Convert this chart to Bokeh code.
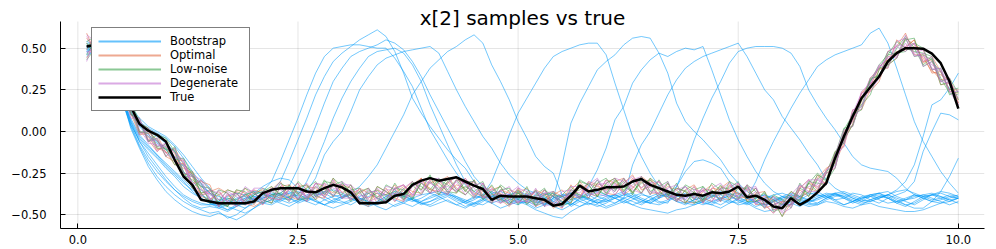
import numpy as np
from bokeh.plotting import figure
from bokeh.models import Range1d, Legend, LegendItem, Label, FixedTicker
from bokeh.embed import file_html
from bokeh.resources import INLINE

# ---------------- data ----------------
t = np.arange(1, 101) / 10.0   # time grid 0.1 .. 10.0

true_x2 = [0.51, 0.52, 0.52, 0.42, 0.26, 0.15, 0.045, 0.005, -0.02, -0.06,
           -0.17, -0.27, -0.32, -0.41, -0.42, -0.43, -0.43, -0.43, -0.43, -0.42,
           -0.37, -0.35, -0.34, -0.34, -0.34, -0.36, -0.365, -0.34, -0.32, -0.335,
           -0.365, -0.43, -0.43, -0.43, -0.425, -0.385, -0.375, -0.32, -0.295, -0.28,
           -0.295, -0.285, -0.275, -0.30, -0.325, -0.345, -0.41, -0.385, -0.39, -0.39,
           -0.39, -0.40, -0.41, -0.445, -0.435, -0.385, -0.325, -0.36, -0.35, -0.335,
           -0.335, -0.33, -0.30, -0.285, -0.32, -0.34, -0.36, -0.38, -0.385, -0.375,
           -0.385, -0.365, -0.37, -0.36, -0.33, -0.395, -0.385, -0.41, -0.45, -0.46,
           -0.40, -0.44, -0.41, -0.365, -0.31, -0.16, -0.03, 0.09, 0.20, 0.265,
           0.33, 0.42, 0.47, 0.50, 0.50, 0.497, 0.467, 0.41, 0.30, 0.137]

# centre of the particle-filter sample band (hundredths)
pf_center = [51, 52, 50, 40, 26, 13, 3, -3, -7, -10,
             -15, -22, -29, -34, -38, -40, -40, -40, -39, -40,
             -39, -38, -36, -37, -36, -37, -36, -35, -34, -35,
             -37, -39, -39, -38, -38, -37, -37, -35, -33, -32,
             -33, -33, -32, -33, -35, -36, -38, -38, -39, -39,
             -39, -40, -40, -41, -41, -38, -35, -35, -34, -34,
             -33, -33, -32, -32, -33, -35, -36, -37, -38, -38,
             -38, -37, -37, -36, -36, -37, -39, -41, -44, -46,
             -41, -37, -34, -31, -27, -17, -4, 8, 18, 27,
             35, 43, 49, 53, 50, 44, 40, 33, 27, 21]

# bootstrap sample paths (hundredths)
boot_01 = [50, 52, 49, 39, 23, 14, 6, 2, -1, -4,
           -9, -16, -24, -31, -37, -42, -41, -43, -40, -38,
           -36, -30, -18, -5, 8, 22, 35, 45, 50, 51,
           52, 52, 51, 50, 50, 44, 36, 27, 14, 1,
           -8, -17, -25, -32, -38, -40, -39, -42, -41, -39,
           -40, -43, -41, -39, -42, -44, -40, -38, -41, -42,
           -39, -37, -40, -43, -41, -38, -39, -42, -44, -41,
           -40, -38, -41, -43, -40, -42, -45, -43, -41, -39,
           -40, -43, -41, -39, -37, -38, -40, -42, -39, -38,
           -40, -38, -35, -30, -20, -3, 16, 19, 26, 35]
boot_02 = [48, 50, 47, 37, 21, 7, -3, -9, -14, -19,
           -24, -29, -34, -38, -41, -44, -47, -45, -43, -40,
           -38, -36, -30, -18, -5, 8, 22, 33, 42, 47,
           51, 55, 58, 61, 57, 48, 35, 20, 11, 3,
           -4, -11, -17, -22, -30, -36, -39, -41, -38, -37,
           -39, -42, -44, -40, -38, -37, -39, -41, -43, -40,
           -38, -41, -44, -42, -39, -37, -38, -40, -43, -44,
           -42, -39, -38, -41, -44, -43, -40, -38, -40, -42,
           -44, -41, -38, -36, -39, -41, -40, -37, -38, -41,
           -43, -40, -38, -36, -30, -12, 0, 11, 10, 7]
boot_03 = [53, 51, 48, 38, 22, 6, -6, -15, -22, -29,
           -35, -40, -44, -46, -45, -46, -44, -42, -40, -39,
           -40, -38, -37, -33, -22, -10, 3, 17, 30, 38,
           45, 48, 50, 52, 55, 53, 49, 42, 33, 22,
           12, 2, -8, -18, -27, -33, -37, -40, -38, -41,
           -43, -41, -38, -37, -40, -43, -45, -42, -39, -38,
           -40, -42, -39, -37, -40, -43, -41, -39, -38, -40,
           -43, -44, -41, -38, -37, -39, -42, -44, -42, -40,
           -38, -40, -43, -44, -41, -39, -38, -40, -42, -41,
           -39, -38, -40, -42, -44, -41, -38, -37, -39, -40]
boot_04 = [46, 49, 46, 35, 19, 3, -9, -19, -27, -33,
           -38, -42, -45, -47, -49, -48, -52, -50, -46, -42,
           -40, -38, -40, -41, -38, -30, -19, -6, 8, 20,
           30, 38, 45, 48, 49, 50, 47, 40, 30, 16,
           4, -8, -20, -30, -36, -39, -38, -41, -43, -40,
           -38, -36, -39, -42, -44, -41, -39, -40, -42, -45,
           -43, -40, -38, -41, -43, -44, -42, -39, -37, -39,
           -41, -43, -40, -37, -39, -42, -40, -38, -41, -44,
           -42, -39, -37, -38, -40, -37, -36, -38, -40, -39,
           -37, -36, -39, -41, -40, -38, -37, -39, -41, -40]
boot_05 = [51, 50, 47, 37, 21, 12, 4, -2, -6, -10,
           -15, -21, -27, -33, -37, -43, -42, -44, -41, -37,
           -33, -30, -28, -29, -34, -36, -28, -14, -6, 0,
           12, 25, 33, 40, 44, 46, 48, 49, 50, 51,
           47, 36, 25, 15, 6, -3, -10, -19, -26, -31,
           -35, -37, -40, -42, -39, -37, -38, -41, -43, -42,
           -40, -38, -40, -42, -43, -40, -38, -37, -39, -42,
           -44, -42, -40, -39, -41, -43, -42, -40, -38, -37,
           -39, -42, -44, -43, -40, -38, -39, -41, -43, -42,
           -40, -38, -36, -35, -37, -39, -38, -36, -37, -39]
boot_06 = [49, 53, 50, 40, 24, 15, 8, 3, 0, -3,
           -8, -14, -21, -28, -34, -41, -40, -42, -44, -41,
           -39, -37, -38, -40, -42, -39, -37, -36, -38, -40,
           -37, -33, -27, -20, -10, 0, 10, 22, 30, 38,
           43, 48, 51, 55, 58, 53, 40, 30, 19, 6,
           -4, -15, -21, -25, -38, -45, -42, -40, -43, -41,
           -38, -36, -39, -41, -43, -40, -37, -38, -41, -43,
           -41, -39, -36, -38, -42, -44, -42, -40, -39, -41,
           -43, -45, -42, -40, -38, -41, -44, -42, -40, -39,
           -41, -43, -42, -40, -38, -39, -41, -40, -38, -39]
boot_07 = [47, 51, 48, 37, 21, 6, -4, -10, -15, -21,
           -26, -31, -35, -38, -42, -45, -43, -41, -38, -36,
           -37, -40, -42, -39, -37, -35, -38, -41, -43, -40,
           -38, -41, -44, -42, -39, -36, -37, -40, -42, -39,
           -37, -36, -39, -42, -40, -38, -30, -17, -2, 11,
           20, 29, 38, 45, 48, 50, 52, 53, 53, 46,
           29, 13, -3, -15, -25, -33, -38, -41, -39, -37,
           -40, -42, -44, -41, -38, -40, -43, -45, -42, -40,
           -38, -39, -42, -41, -39, -37, -40, -43, -41, -38,
           -37, -40, -42, -41, -38, -40, -42, -43, -40, -38]
boot_08 = [52, 50, 47, 36, 20, 4, -8, -17, -24, -30,
           -35, -39, -42, -44, -44, -42, -39, -37, -38, -41,
           -43, -41, -38, -36, -39, -42, -44, -41, -39, -38,
           -40, -43, -45, -43, -40, -38, -39, -41, -44, -42,
           -39, -37, -40, -42, -44, -41, -38, -40, -43, -41,
           -39, -41, -44, -40, -20, 5, 17, 27, 37, 42,
           46, 52, 56, 57, 56, 47, 35, 17, 6, 0,
           -5, -11, -17, -25, -31, -36, -39, -42, -44, -41,
           -39, -41, -43, -40, -38, -37, -39, -42, -44, -41,
           -39, -40, -43, -45, -42, -39, -38, -40, -42, -40]
boot_09 = [45, 49, 46, 35, 19, 4, -5, -11, -16, -22,
           -27, -33, -37, -40, -43, -45, -47, -44, -41, -39,
           -38, -39, -41, -43, -41, -38, -36, -39, -42, -43,
           -41, -39, -37, -40, -42, -45, -43, -40, -38, -37,
           -39, -42, -44, -42, -39, -40, -43, -41, -38, -36,
           -38, -41, -43, -45, -47, -44, -40, -33, -23, -10,
           7, 15, 29, 37, 43, 47, 45, 48, 50, 49,
           51, 37, 22, 7, -5, -15, -24, -31, -36, -39,
           -41, -43, -40, -38, -39, -42, -44, -42, -40, -38,
           -37, -39, -42, -44, -43, -40, -38, -39, -41, -43]
boot_10 = [50, 51, 49, 39, 23, 13, 5, 0, -3, -7,
           -12, -19, -26, -32, -37, -39, -41, -44, -46, -43,
           -40, -38, -37, -40, -43, -41, -38, -37, -40, -42,
           -44, -41, -39, -37, -38, -41, -43, -45, -42, -40,
           -38, -37, -40, -43, -41, -38, -36, -39, -42, -44,
           -41, -38, -40, -43, -45, -42, -39, -37, -39, -41,
           -43, -40, -20, -8, 0, 11, 22, 31, 38, 42,
           45, 47, 49, 51, 53, 45, 35, 25, 19, 9,
           2, -5, -13, -20, -29, -34, -37, -40, -42, -39,
           -38, -40, -43, -41, -39, -38, -40, -42, -44, -42]
boot_11 = [48, 52, 48, 38, 22, 8, -2, -8, -14, -20,
           -25, -30, -36, -40, -43, -46, -48, -45, -42, -40,
           -41, -43, -40, -37, -36, -39, -42, -44, -41, -39,
           -38, -40, -43, -44, -41, -38, -40, -42, -40, -37,
           -36, -38, -41, -43, -45, -42, -39, -38, -40, -43,
           -42, -39, -37, -39, -42, -44, -41, -38, -36, -38,
           -40, -43, -41, -38, -39, -42, -43, -33, -20, -5,
           8, 20, 30, 41, 48, 50, 51, 51, 51, 50,
           47, 39, 25, 16, 8, 1, -7, -15, -20, -22,
           -23, -24, -28, -34, -38, -40, -42, -41, -39, -40]
boot_12 = [51, 49, 46, 36, 21, 5, -6, -13, -20, -27,
           -33, -38, -41, -43, -44, -44, -43, -40, -39, -41,
           -43, -44, -41, -39, -38, -40, -42, -44, -42, -39,
           -37, -40, -42, -43, -41, -39, -38, -41, -43, -42,
           -40, -38, -39, -41, -43, -44, -41, -39, -38, -40,
           -42, -44, -43, -40, -38, -39, -42, -44, -41, -39,
           -38, -40, -42, -44, -41, -38, -39, -42, -43, -41,
           -39, -38, -40, -42, -43, -40, -30, -17, -6, 4,
           14, 23, 31, 39, 43, 46, 48, 50, 52, 59,
           62, 53, 38, 22, 6, -6, -15, -24, -31, -37]
boot_13 = [49, 50, 48, 38, 22, 11, 3, -3, -7, -11,
           -17, -24, -30, -35, -40, -43, -45, -47, -49, -46,
           -42, -39, -38, -37, -40, -42, -39, -36, -35, -37,
           -40, -42, -44, -42, -39, -37, -39, -41, -43, -44,
           -41, -39, -42, -45, -43, -40, -37, -36, -38, -41,
           -43, -46, -44, -41, -39, -37, -40, -43, -45, -43,
           -40, -38, -37, -40, -42, -39, -37, -33, -24, -18,
           -17, -19, -22, -30, -37, -40, -42, -44, -42, -39,
           -37, -39, -41, -43, -40, -38, -37, -39, -41, -42,
           -40, -38, -41, -44, -46, -46, -42, -36, -27, -16]
boot_14 = [54, 52, 49, 39, 22, 2, -10, -21, -29, -36,
           -41, -45, -48, -50, -51, -49, -51, -53, -50, -46,
           -43, -41, -43, -45, -42, -40, -41, -44, -46, -44,
           -42, -40, -42, -45, -47, -44, -42, -40, -43, -45,
           -43, -41, -44, -46, -43, -41, -43, -46, -44, -42,
           -44, -47, -49, -51, -52, -48, -45, -43, -44, -46,
           -44, -42, -44, -46, -47, -48, -49, -47, -46, -44,
           -42, -44, -46, -43, -41, -43, -46, -48, -47, -44,
           -42, -43, -45, -44, -42, -43, -45, -46, -44, -43,
           -45, -46, -47, -48, -48, -47, -45, -43, -42, -40]

# deviations of the particle-filter samples from the band centre (hundredths)
opt_dev_1 = [5, -3, 2, 4, -4, 2, 3, -2, -5, 3, 2, -4, 5, 0, -3, 4, -2, 5, 2, -4,
             3, -2, -5, 2, 5, -3, 0, 4, -5, 2, -4, 5, 2, -2, 4, -5, 2, 5, -2, 3,
             0, -5, 3, 2, -4, 5, -2, -3, 4, 2, -2, 4, -3, 5, 2, -5, 3, 0, -4, 5,
             2, -3, 4, -2, 5, 0, -5, 3, 2, -2, 3, 2, -5, 4, -2, 5, -3, 2, 3, -5,
             -2, 3, 5, -4, 2, -5, 4, -2, 5, 2, -3, 5, 2, 6, -4, 2, -5, 3, -2, 4]
opt_dev_2 = [-7, 2, 5, -3, 0, 5, -4, 3, 2, -5, -3, 5, -2, 4, 6, -5, 2, -3, 5, 0,
             -5, 3, 6, -2, -5, 4, 2, -4, 6, -2, 5, -3, -6, 3, 0, 5, -4, -2, 5, -5,
             3, 6, -2, -5, 3, 0, 5, -3, -6, 2, 5, -2, 3, -5, -2, 6, -4, 5, 2, -3,
             -5, 2, 6, -3, 0, 5, -2, -5, 3, 6, -2, -5, 3, 6, -4, -2, 5, -3, -5, 4,
             5, -3, -2, 5, -5, 3, 2, -4, 0, 5, 3, -5, 6, -3, 5, -2, 3, -5, 2, -4]
opt_dev_3 = [8, -5, -3, 5, 3, -2, -5, 2, 5, -3, 5, 2, -5, -3, 2, 6, 3, -5, -2, 5,
             2, -5, 3, 5, -2, -5, 5, 2, -3, 3, -2, 2, 5, -5, -3, 3, 5, -4, 2, -2,
             -5, 2, 5, -3, 6, -2, -5, 3, 2, -4, 2, -5, -2, 3, 6, -3, 2, -5, 3, 0,
             3, 5, -5, 2, -4, -2, 5, -3, -5, 2, -5, 3, 2, -4, 5, -5, 2, 5, -3, 0,
             -3, 2, -5, 3, 5, -2, -3, 5, -5, -2, 2, -3, -5, 3, 2, 5, -3, -2, 5, -2]
opt_dev_4 = [-2, 6, -5, -2, 5, -3, 2, 5, -3, -2, -5, 3, 2, -5, -3, 2, 5, 3, -4, -5,
             -3, 5, -2, -4, 3, 5, -3, -5, 2, 3, 3, -2, -4, 5, 2, -3, -5, 3, 5, -3,
             -3, 3, -5, 5, -2, -3, 3, 5, -2, 5, -3, 5, 2, -2, -5, 3, 5, -2, -5, 3,
             5, -5, -2, 5, 2, -3, 3, 2, -4, -5, 2, 5, -3, -5, 3, 2, -5, -2, 5, 3,
             3, -5, 3, -2, -3, 5, -5, 2, 3, -3, -5, 2, -3, -2, 5, -3, 5, 3, -3, 2]
opt_dev_5 = [2, -6, 4, 1, -2, 4, -3, 0, -4, 1, -2, 0, 4, -4, 1, -1, -5, 4, 0, 3,
             4, 0, -4, 5, -1, 1, -5, -1, 4, -5, 0, 4, -1, 1, -5, 0, 4, -1, -4, 1,
             4, -4, 0, -1, 5, -4, 0, 1, -5, 4, -4, 1, 5, -4, 0, -1, -5, 4, 1, -1,
             0, 4, -1, -5, 4, 1, -1, -4, 0, 5, -4, 0, 4, 1, -1, -4, 1, -5, 0, 4,
             -1, 4, 0, -5, 4, 1, -1, -4, 5, 0, 4, 0, -1, -4, 1, 0, -4, 1, 4, -4]
low_dev_1 = [-8, -2, 3, -5, 2, 5, 3, -3, 5, 6, 3, -2, -5, 5, 3, -3, -5, 2, 5, 3,
             -2, -5, 3, -3, 6, 2, -5, 5, 3, -5, 2, 5, -3, -5, 6, 2, -3, 5, -2, 6,
             -5, 3, 5, -2, -5, 3, -3, 6, 3, -5, 3, -3, 5, 2, -3, -5, 6, 3, -5, 2,
             -3, 5, -5, 3, 2, -5, 5, -2, 6, 3, 5, -2, 5, -5, 2, 3, -2, -5, 6, 5,
             -5, 3, -3, 5, -2, 3, 6, -5, 2, 3, 5, 3, -2, -5, 3, 6, -3, 5, -5, 3]
low_dev_2 = [3, 5, -2, 2, -3, -2, 2, 5, -2, 2, -2, 6, 3, -3, -5, 5, 3, -2, -5, 2,
             5, 2, -3, 5, -5, -3, 3, -2, 6, 2, -5, 3, 5, -2, -5, 3, 2, -6, 3, 5,
             2, -3, -5, 3, 5, -3, 6, -2, -5, 3, -5, 2, 6, -3, 3, 5, -5, -2, 5, -3,
             3, -2, 2, -5, 5, 3, -3, 6, -5, 2, -3, 6, 2, -2, -5, 5, 3, -3, 2, -5,
             2, -5, 3, 6, -3, -5, 2, 3, -3, 5, -2, 3, 5, -3, -2, 3, 5, -5, 3, -2]
low_dev_3 = [-5, 3, -6, 6, 3, -3, 5, -3, 3, -5, 6, -3, 2, 3, -5, -2, 5, 3, -3, 2,
             3, 5, -2, -5, 2, 5, -3, 6, -2, -3, 5, -5, 2, 3, -3, 6, -2, 3, -5, 2,
             -2, 5, -3, -5, 2, 6, -5, 3, 5, -2, 6, -5, 2, 5, -2, 3, -3, -5, 3, 6,
             -2, 3, -6, 5, -3, 2, 6, -5, 3, -3, 5, -3, 3, 2, 6, -5, -3, 5, -2, 3,
             -3, 6, -5, 2, 3, -3, 5, 2, -5, 3, 3, -3, -5, 2, 6, -5, 2, 3, -2, 5]
low_dev_4 = [2, -7, 5, 0, -2, 3, -3, 2, -3, 0, -5, 2, 5, -3, 3, 2, -5, 5, 3, -2,
             2, -3, 5, 3, -5, 3, 6, -3, 2, 5, -2, 3, -5, 5, 2, -3, 3, -5, 2, -3,
             5, -2, 3, -3, 6, -5, 2, 5, -3, 2, -2, 5, -5, 3, 2, -3, 5, 3, -5, 3,
             5, -3, 2, 3, -5, 6, -2, 3, 2, -5, -3, 2, -5, 6, 3, -2, 5, -3, 3, 2,
             5, -2, 3, -5, 2, 5, -3, 3, -2, -5, 2, 5, -3, 3, -5, 2, 3, -3, 5, 2]
low_dev_5 = [0, 4, -1, -4, 5, 0, -4, 4, 1, -1, 4, -4, 0, 1, 4, -5, 0, -1, 1, 4,
             -4, 0, -1, 4, -1, -4, 0, 1, -5, 4, 1, -4, 4, -1, 0, 1, -4, 4, 0, -5,
             4, 1, -4, 0, -1, 4, 1, -5, 0, 4, -1, -4, 0, 4, -4, 1, 0, 4, -1, -4,
             4, 0, -4, 1, 4, -1, -4, 0, 5, 1, -4, 1, 0, -1, -4, 4, -1, 4, -4, 0,
             1, -4, 4, 0, -5, 4, -1, -4, 1, 4, -1, -4, 1, 4, 0, -4, 4, -1, -4, 1]
deg_dev_1 = [-9, 5, -2, -3, 3, 5, -2, -3, 2, -5, 5, -3, 3, 5, -2, -5, 3, -3, 6, 3,
             -3, 2, 5, -5, 3, -2, 5, 3, -5, 5, 3, -5, 3, 2, -5, 3, 5, -3, 3, -5,
             2, 5, -3, 3, -3, 5, -5, 2, 6, -3, -3, 6, -5, -2, 5, 3, -2, 5, -3, -5,
             2, -5, 3, 5, -3, -2, 6, -5, -2, 5, -5, 3, 6, -2, -3, 5, -5, 3, -3, 2,
             3, 5, -2, -5, 3, 2, -5, 3, 5, -3, -3, -2, 5, 3, -5, 3, -3, 5, -3, 3]
deg_dev_2 = [6, -3, 3, -2, 5, -3, 3, 2, -5, 3, -3, 2, -3, 5, 3, -5, 2, 3, -3, 6,
             5, -3, 2, 3, -5, 6, -2, -3, 5, -5, -3, 5, -2, -5, 3, 2, 5, -3, -5, 3,
             5, -3, 2, -5, 3, 5, -3, -5, 2, 6, -2, -5, 3, 5, -3, 2, -5, 3, 6, -2,
             5, 3, -3, -5, 2, 5, -3, -2, 5, -3, 3, -5, 2, 5, -5, 3, 6, -3, 2, -3,
             -5, 3, 5, -3, 2, -5, 3, -2, 6, 2, 5, -5, 3, -2, 3, -5, 2, -3, 5, -5]
deg_dev_3 = [-3, -5, 6, 3, -3, 2, -5, 5, -2, 3, 2, 5, -3, -5, 3, 3, -2, -5, 2, 5,
             -5, 3, -3, 2, 5, -5, 3, -2, 3, -5, 2, -3, 5, -3, 2, -5, 3, 5, -3, 2,
             -3, 2, 5, 3, -5, 2, 3, -5, -2, 5, 3, 2, -5, 3, -5, 5, 2, -3, -3, 5,
             -5, 2, 5, -2, 3, -5, 2, 5, -3, 3, 2, -3, -5, 3, 5, -3, 3, -5, 5, -2,
             -2, -3, 5, 2, -5, 3, -2, 5, -3, 2, -3, 5, 2, -5, 3, -2, 5, -3, 2, 3]
deg_dev_4 = [7, 2, -5, -5, 2, -5, 5, -2, 3, -3, -2, -5, 2, 3, -3, 5, -3, 3, -5, -2,
             3, -2, -5, 3, 2, -3, 5, -5, 2, 3, 5, 2, -3, -2, 5, 3, -5, 2, 3, -5,
             -2, -5, 3, 2, 5, -3, -2, 3, -5, -3, 2, -3, 5, -3, 3, -2, 3, -5, 2, 3,
             -3, 5, -2, 3, -5, 3, -5, 2, 5, -2, 3, -2, 3, -3, -5, 2, 5, -2, -5, 3,
             -3, 5, -3, 3, -5, 3, 5, -5, 2, 5, 3, 2, -5, 5, -3, 5, -2, 3, -3, -5]
deg_dev_5 = [-4, 0, 1, 4, -1, 0, 4, -4, -1, 1, 0, 4, -4, -1, 0, -1, 4, 1, -4, 0,
             -1, 4, 1, -1, -4, 1, -4, 4, 0, -1, -4, 1, -1, 4, -1, 0, -1, -4, 4, 1,
             -1, 0, -4, 5, 1, -4, 4, 0, 1, -4, 0, 4, -1, -4, 1, 0, -4, 1, 5, -4,
             1, -4, 0, 4, -1, 5, 1, -4, -1, 0, 4, 1, -4, 0, 5, -1, -4, 1, 0, 4,
             -4, 0, 1, -1, 4, -4, 1, 0, -4, 1, 4, 1, -4, 0, -4, 1, 0, 4, 1, -1]

x_ticks = [0.0, 2.5, 5.0, 7.5, 10.0]
x_tick_labels = ["0.0", "2.5", "5.0", "7.5", "10.0"]
y_ticks = [-0.5, -0.25, 0.0, 0.25, 0.5]
y_tick_labels = ["\u22120.50", "\u22120.25", "0.00", "0.25", "0.50"]

series_names = ["Bootstrap", "Optimal", "Low-noise", "Degenerate", "True"]

# ---------------- styling ----------------
BLUE, ORANGE, GREEN, PURPLE = "#009AFA", "#E36F47", "#3EA44E", "#C371D2"
SAMPLE_ALPHA = 0.55
FONT = "DejaVu Sans"

X_LO, X_HI = -0.197, 10.297
Y_LO, Y_HI = -0.582, 0.786
Y_AXIS_TOP = 0.66

p = figure(width=996, height=249,
           x_range=Range1d(X_LO, X_HI), y_range=Range1d(Y_LO, Y_HI),
           output_backend="svg", toolbar_location=None,
           min_border_left=60, min_border_right=12,
           min_border_top=0, min_border_bottom=21)
p.outline_line_color = None
p.background_fill_color = "white"
p.border_fill_color = "white"

# grid
p.xgrid.visible = False
p.ygrid.grid_line_color = "#000000"
p.ygrid.grid_line_alpha = 0.1
p.ygrid.grid_line_width = 1
p.segment(x0=x_ticks, y0=[Y_LO] * len(x_ticks), x1=x_ticks, y1=[Y_AXIS_TOP] * len(x_ticks),
          line_color="#000000", line_alpha=0.1, line_width=1)

# axes
for ax in (p.xaxis[0], p.yaxis[0]):
    ax.axis_line_color = "black"
    ax.axis_line_width = 1
    ax.major_tick_in = 5
    ax.major_tick_out = 0
    ax.major_tick_line_color = "black"
    ax.minor_tick_line_color = None
    ax.major_label_text_font = FONT
    ax.major_label_text_font_size = "11.5px"
    ax.major_label_text_color = "black"
p.xaxis.ticker = FixedTicker(ticks=x_ticks)
p.xaxis.major_label_overrides = dict(zip(x_ticks, x_tick_labels))
p.xaxis.major_label_standoff = 6
p.yaxis.ticker = FixedTicker(ticks=y_ticks)
p.yaxis.major_label_overrides = dict(zip(y_ticks, y_tick_labels))
p.yaxis.major_label_standoff = 14
p.yaxis.bounds = (Y_LO, Y_AXIS_TOP)

# sample paths
boot_paths = [boot_01, boot_02, boot_03, boot_04, boot_05, boot_06, boot_07,
              boot_08, boot_09, boot_10, boot_11, boot_12, boot_13, boot_14]
for v in boot_paths:
    p.line(t, np.array(v) / 100.0, line_color=BLUE, line_alpha=SAMPLE_ALPHA, line_width=1)

center = np.array(pf_center, dtype=float)
groups = [(ORANGE, [opt_dev_1, opt_dev_2, opt_dev_3, opt_dev_4, opt_dev_5]),
          (GREEN, [low_dev_1, low_dev_2, low_dev_3, low_dev_4, low_dev_5]),
          (PURPLE, [deg_dev_1, deg_dev_2, deg_dev_3, deg_dev_4, deg_dev_5])]
for color, devs in groups:
    for d in devs:
        p.line(t, (center + np.array(d)) / 100.0, line_color=color,
               line_alpha=SAMPLE_ALPHA, line_width=1)

p.line(t, true_x2, line_color="black", line_width=2.5)

# legend entries: renderers holding no visible point, only the legend line style
leg_colors = [BLUE, ORANGE, GREEN, PURPLE, "black"]
leg_alphas = [0.6, 0.6, 0.6, 0.6, 1.0]
leg_widths = [2, 2, 2, 2, 2.5]
leg_items = []
for name, c, a, w in zip(series_names, leg_colors, leg_alphas, leg_widths):
    r = p.line(x=[np.nan], y=[np.nan], line_color=c, line_alpha=a, line_width=w)
    leg_items.append(LegendItem(label=name, renderers=[r]))

legend = Legend(items=leg_items, location=(31, 117), padding=6, spacing=0, margin=0,
                glyph_height=12, glyph_width=63, label_height=12, label_width=73,
                label_standoff=9, label_text_font=FONT, label_text_font_size="11.5px",
                label_text_color="black",
                border_line_color="black", border_line_width=1,
                background_fill_color="white", background_fill_alpha=1.0)
p.add_layout(legend)

title = Label(x=(X_LO + X_HI) / 2, y=0.684, text="x[2] samples vs true",
              text_align="center", text_baseline="alphabetic",
              text_font=FONT, text_font_size="20px", text_color="black")
p.add_layout(title)

open("out.html", "w").write(file_html(p, INLINE))
